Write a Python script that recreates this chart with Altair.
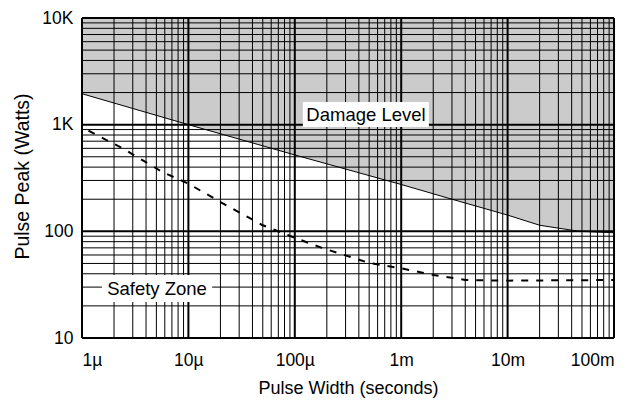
import altair as alt
import pandas as pd

# Damage level curve (upper boundary of safe operation)
damage_x = [1e-6, 1e-5, 1e-4, 1e-3, 3e-3, 1e-2, 2e-2, 4.7e-2, 1e-1]
damage_y = [1950, 1000, 520, 275, 200, 142, 114, 100, 97]

# Safety curve (dashed)
safety_x = [1.15e-6, 2.4e-6, 5.7e-6, 1e-5, 2e-5, 5e-5, 1e-4, 1.8e-4, 5e-4, 1e-3, 2e-3, 4e-3, 1e-2, 1e-1]
safety_y = [880, 600, 360, 280, 188, 114, 87, 70, 50.5, 45, 39, 35, 34.5, 35]

# Axis ticks
x_major = [1e-6, 1e-5, 1e-4, 1e-3, 1e-2, 1e-1]
x_labels = ["1µ", "10µ", "100µ", "1m", "10m", "100m"]
y_major = [10, 100, 1000, 10000]
y_labels = ["10", "100", "1K", "10K"]
x_minor = [k * 10.0 ** e for e in range(-6, -1) for k in range(2, 10)]
y_minor = [k * 10.0 ** e for e in range(1, 4) for k in range(2, 10)]

# Annotations
ann_text = ["Damage Level", "Safety Zone"]
ann_x = [4.67e-4, 5.07e-6]
ann_y = [1245, 29.1]
box_x1 = [1.19e-4, 1.54e-6]
box_x2 = [1.82e-3, 1.67e-5]
box_y1 = [951, 21.7]
box_y2 = [1630, 38.9]

FONT = "Liberation Sans"
xscale = alt.Scale(type="log", domain=[1e-6, 1e-1], nice=False)
yscale = alt.Scale(type="log", domain=[10, 10000], nice=False)

damage = pd.DataFrame({"x": damage_x, "y": damage_y})
safety = pd.DataFrame({"x": safety_x, "y": safety_y})
ann = pd.DataFrame({"t": ann_text, "x": ann_x, "y": ann_y,
                    "x1": box_x1, "x2": box_x2, "y1": box_y1, "y2": box_y2})


def label_expr(vals, labels):
    # pick label by decade (robust to float formatting)
    expr = f"'{labels[-1]}'"
    for v, l in reversed(list(zip(vals[:-1], labels[:-1]))):
        expr = f"datum.value < {v * 3.0:g} ? '{l}' : ({expr})"
    return expr


x_axis = alt.Axis(values=x_major, labelExpr=label_expr(x_major, x_labels),
                  title="Pulse Width (seconds)", grid=False, ticks=False, domain=False,
                  labelFont=FONT, labelFontSize=17.5, labelColor="black", labelPadding=13,
                  titleFont=FONT, titleFontSize=18, titleFontWeight="normal", titleColor="black",
                  titleBaseline="alphabetic", titleY=55)
y_axis = alt.Axis(values=y_major, labelExpr=label_expr(y_major, y_labels),
                  title="Pulse Peak (Watts)", grid=False, ticks=False, domain=False,
                  labelFont=FONT, labelFontSize=17.5, labelColor="black", labelPadding=9,
                  titleFont=FONT, titleFontSize=19.5, titleFontWeight="normal", titleColor="black",
                  titleBaseline="middle", titleX=-60, titleY=158, titleAngle=270)


def X(f):
    return alt.X(f, scale=xscale, axis=x_axis)


def Y(f):
    return alt.Y(f, scale=yscale, axis=y_axis)


area = alt.Chart(damage).mark_area(color="#cbcbcb", opacity=1).encode(
    x=X("x:Q"), y=Y("y:Q"), y2=alt.datum(10000),
)


def vrules(vals, w):
    return alt.Chart(pd.DataFrame({"v": vals})).mark_rule(color="black", strokeWidth=w).encode(
        x=X("v:Q"))


def hrules(vals, w):
    return alt.Chart(pd.DataFrame({"v": vals})).mark_rule(color="black", strokeWidth=w).encode(
        y=Y("v:Q"))


dmg_line = alt.Chart(damage).mark_line(color="black", strokeWidth=1).encode(
    x=X("x:Q"), y=Y("y:Q"))

safe_line = alt.Chart(safety).mark_line(color="black", strokeWidth=2, strokeDash=[7, 8]).encode(
    x=X("x:Q"), y=Y("y:Q"))

boxes = alt.Chart(ann).mark_rect(color="white").encode(
    x=X("x1:Q"), x2="x2:Q", y=Y("y1:Q"), y2="y2:Q")

texts = alt.Chart(ann).mark_text(font=FONT, fontSize=18.5, color="black",
                                 align="center", baseline="middle").encode(
    x=X("x:Q"), y=Y("y:Q"), text="t:N")

chart = alt.layer(
    area,
    vrules(x_minor, 1), hrules(y_minor, 1),
    vrules(x_major, 2), hrules(y_major, 2),
    dmg_line, safe_line, boxes, texts,
).properties(
    width=532, height=320,
    autosize=alt.AutoSizeParams(type="none"),
    padding={"left": 82, "top": 18, "right": 22, "bottom": 62},
    background="white",
).configure_view(stroke=None)

chart.save("out.html", embed_options={"renderer": "svg", "actions": False})
